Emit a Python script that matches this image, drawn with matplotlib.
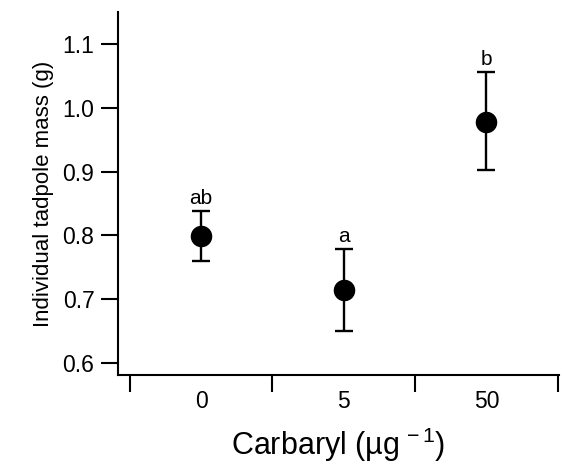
import numpy as np
import matplotlib
matplotlib.use("Agg")
import matplotlib.pyplot as plt

plt.rcParams['font.family'] = ['Liberation Sans', 'DejaVu Sans']
plt.rcParams['mathtext.fontset'] = 'custom'
plt.rcParams['mathtext.rm'] = 'Liberation Sans'
plt.rcParams['mathtext.it'] = 'Liberation Sans'

# data
doses = ["0", "5", "50"]
mass = [0.799, 0.714, 0.978]
err_low = [0.759, 0.650, 0.902]
err_high = [0.838, 0.779, 1.056]
letters = ["ab", "a", "b"]

x = np.arange(len(doses))
mass = np.array(mass)
yerr = [mass - np.array(err_low), np.array(err_high) - mass]

fig = plt.figure(figsize=(5.62, 4.68), dpi=100)
ax = fig.add_axes([0.21, 0.199, 0.785, 0.775])

ax.errorbar(x, mass, yerr=yerr, fmt='o', color='black', markersize=14.5,
            elinewidth=1.7, capsize=6.5, capthick=1.7)

for i in range(len(x)):
    ax.annotate(letters[i], (x[i], err_high[i]), xytext=(0, 5),
                textcoords='offset points', ha='center', va='baseline', fontsize=15)

ax.set_xlim(-0.583, 2.51)
ax.set_ylim(0.581, 1.15)
ax.set_yticks([0.6, 0.7, 0.8, 0.9, 1.0, 1.1])
ax.set_yticklabels(["0.6", "0.7", "0.8", "0.9", "1.0", "1.1"])

ax.set_xticks(x)
ax.set_xticklabels(doses)
ax.set_xticks([-0.5, 0.5, 1.5, 2.5], minor=True)
ax.tick_params(axis='x', which='major', length=0, pad=11, labelsize=16.5)
ax.tick_params(axis='x', which='minor', length=12, width=1.5, direction='out')
ax.tick_params(axis='y', length=12, width=1.5, direction='out', pad=5, labelsize=16.5)

ax.spines['top'].set_visible(False)
ax.spines['right'].set_visible(False)
ax.spines['left'].set_linewidth(1.5)
ax.spines['bottom'].set_linewidth(1.5)

ax.set_ylabel("Individual tadpole mass (g)", fontsize=16, labelpad=6)
ax.set_xlabel(r"Carbaryl (µg$^{\,-1}$)", fontsize=22, labelpad=9)

fig.savefig("out.png", dpi=100)
